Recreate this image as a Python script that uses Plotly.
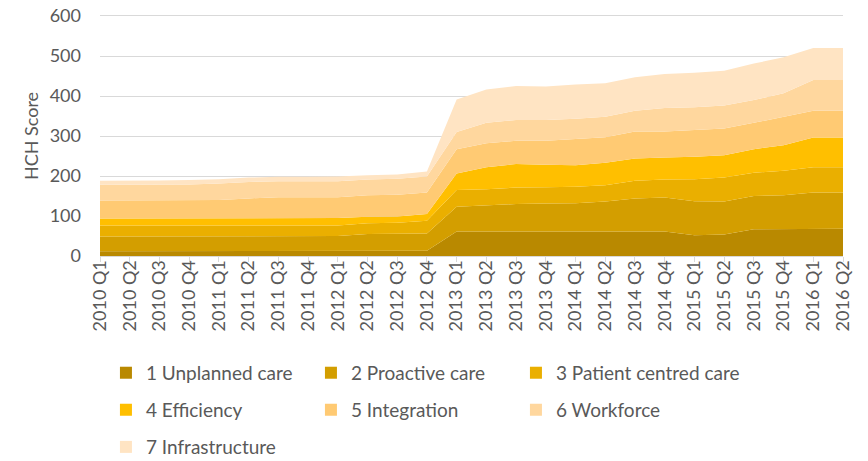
import plotly.graph_objects as go

quarters = [
    "2010 Q1", "2010 Q2", "2010 Q3", "2010 Q4",
    "2011 Q1", "2011 Q2", "2011 Q3", "2011 Q4",
    "2012 Q1", "2012 Q2", "2012 Q3", "2012 Q4",
    "2013 Q1", "2013 Q2", "2013 Q3", "2013 Q4",
    "2014 Q1", "2014 Q2", "2014 Q3", "2014 Q4",
    "2015 Q1", "2015 Q2", "2015 Q3", "2015 Q4",
    "2016 Q1", "2016 Q2",
]

unplanned_care = [12, 12, 12, 12, 12, 12, 12, 12, 12, 13, 13, 13, 61, 61, 61, 62, 62, 62, 62, 61, 52, 54, 67, 67, 68, 68]
proactive_care = [37, 37, 37, 37, 37, 37, 37, 37, 38, 42, 42, 43, 62, 66, 69, 69, 70, 74, 82, 85, 85, 82, 83, 85, 91, 91]
patient_centred_care = [27, 27, 27, 27, 27, 27, 27, 27, 26, 27, 28, 32, 42, 40, 41, 41, 41, 41, 44, 45, 55, 60, 58, 61, 63, 63]
efficiency = [18, 18, 18, 18, 18, 18, 18, 18, 19, 16, 16, 17, 41, 55, 59, 56, 54, 56, 56, 55, 56, 56, 59, 64, 74, 74]
integration = [45, 45, 45, 45, 46, 50, 53, 53, 52, 54, 54, 54, 61, 60, 58, 60, 65, 64, 67, 65, 67, 67, 66, 71, 67, 67]
workforce = [39, 39, 39, 40, 41, 41, 40, 40, 40, 39, 40, 40, 43, 51, 52, 52, 51, 51, 52, 59, 57, 57, 57, 59, 77, 77]
infrastructure = [10, 10, 11, 11, 11, 11, 11, 11, 12, 11, 11, 12, 81, 83, 85, 84, 86, 84, 84, 85, 86, 87, 91, 90, 80, 80]

series_names = [
    "1 Unplanned care", "2 Proactive care", "3 Patient centred care",
    "4 Efficiency", "5 Integration", "6 Workforce", "7 Infrastructure",
]
series_values = [unplanned_care, proactive_care, patient_centred_care,
                 efficiency, integration, workforce, infrastructure]
colors = ["#B98900", "#D39E00", "#EAAF00", "#FFBF00", "#FFCA73", "#FFD79E", "#FFE4C3"]
legend_slots = ["legend", "legend", "legend4", "legend2", "legend2", "legend2", "legend3"]

FONT = "Lato"
GREY = "#595959"
GRID = "#D9D9D9"

fig = go.Figure()
for name, vals, col in zip(series_names, series_values, colors):
    fig.add_trace(go.Scatter(
        x=quarters, y=vals, name=name, stackgroup="one", mode="lines",
        line=dict(width=0, color=col), fillcolor=col, showlegend=False,
        legendgroup=name, hoverinfo="x+y+name",
    ))
# legend swatches (square keys as in the original)
for name, col, lg in zip(series_names, colors, legend_slots):
    fig.add_trace(go.Scatter(
        x=[None], y=[None], mode="markers", name=name, legendgroup=name,
        marker=dict(symbol="square", size=10, color=col), legend=lg,
    ))

leg_common = dict(orientation="h", xanchor="left", yanchor="middle",
                  entrywidth=160, entrywidthmode="pixels",
                  font=dict(family=FONT, size=19, color=GREY),
                  bgcolor="rgba(0,0,0,0)", itemsizing="constant")
col_x = [0.008, 0.008 + 205 / 743, 0.008 + 410 / 743]
row_y = [-0.487, -0.641, -0.796]

fig.update_layout(
    width=868, height=461,
    margin=dict(l=100, r=25, t=16, b=205, autoexpand=False),
    paper_bgcolor="white", plot_bgcolor="white",
    font=dict(family=FONT, size=18, color=GREY),
    xaxis=dict(
        type="category", range=[0, len(quarters) - 1],
        showgrid=False, showline=True, mirror=True, linecolor=GRID, linewidth=1,
        ticks="outside", ticklen=5, tickcolor=GRID, tickangle=-90,
        ticklabelstandoff=-9,
        tickfont=dict(family=FONT, size=18, color=GREY),
    ),
    yaxis=dict(
        range=[0, 600], tick0=0, dtick=100, showgrid=True, gridcolor=GRID, gridwidth=1,
        zeroline=False, showline=False, ticks="",
        ticklabelstandoff=18, ticklabeloverflow="allow",
        tickfont=dict(family=FONT, size=18, color=GREY),
        title=dict(text="HCH Score", font=dict(family=FONT, size=18, color=GREY), standoff=6),
    ),
    legend=dict(leg_common, x=col_x[0], y=row_y[0]),
    legend4=dict(leg_common, entrywidth=0, x=col_x[2], y=row_y[0]),
    legend2=dict(leg_common, x=col_x[0], y=row_y[1]),
    legend3=dict(leg_common, x=col_x[0], y=row_y[2]),
)

# remove the browser's default 8px body margin so the figure fills the window
fig.write_html("out.html", config={"displayModeBar": False},
               post_script="document.body.style.margin='0';")
